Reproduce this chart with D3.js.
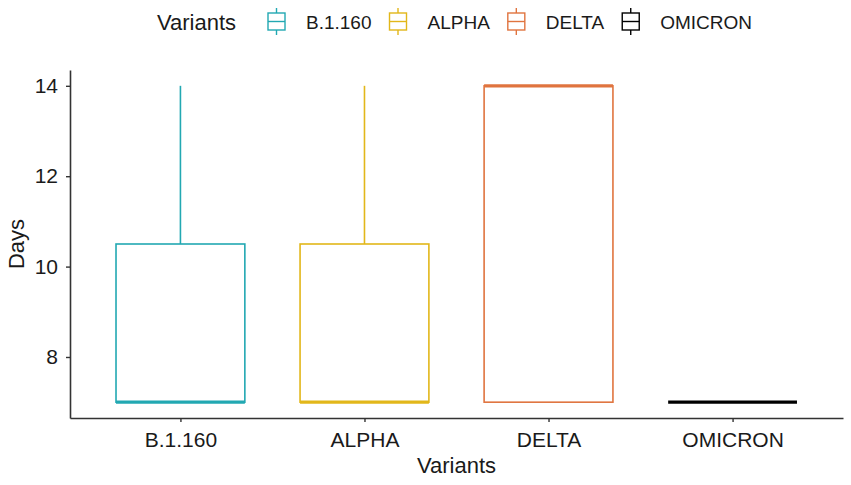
<!DOCTYPE html>
<html>
<head>
<meta charset="utf-8">
<script src="https://cdn.jsdelivr.net/npm/d3@7"></script>
<style>
  body { margin: 0; background: #fff; }
  text { font-family: "Liberation Sans", Arial, sans-serif; fill: #1a1a1a; }
</style>
</head>
<body>
<script>
// data
const variants = ["B.1.160", "ALPHA", "DELTA", "OMICRON"];
const colors = ["#22A8B2", "#E2B71A", "#E0743F", "#000000"];
const lowerWhisker = [7, 7, 7, 7];
const q1 = [7, 7, 7, 7];
const medians = [7, 7, 14, 7];
const q3 = [10.5, 10.5, 14, 7];
const upperWhisker = [14, 14, 14, 7];
const yTicks = [8, 10, 12, 14];

const W = 851, H = 485;
const m = { left: 70, right: 8, top: 70, bottom: 67 };

const svg = d3.select("body").append("svg")
  .attr("width", W)
  .attr("height", H);

// x as continuous positions 1..4 with ggplot-like 0.6 padding
const x = d3.scaleLinear().domain([0.4, 4.6]).range([m.left, W - m.right]);
const y = d3.scaleLinear().domain([6.65, 14.35]).range([H - m.bottom, m.top]);
const boxW = 0.7;

const boxes = variants.map((v, i) => ({
  name: v, pos: i + 1, color: colors[i],
  lo: lowerWhisker[i], q1: q1[i], med: medians[i], q3: q3[i], hi: upperWhisker[i]
}));

const g = svg.append("g");

// whiskers
g.selectAll(".whisk-hi").data(boxes).join("line")
  .attr("x1", d => x(d.pos)).attr("x2", d => x(d.pos))
  .attr("y1", d => y(d.q3)).attr("y2", d => y(d.hi))
  .attr("stroke", d => d.color).attr("stroke-width", 1.6);
g.selectAll(".whisk-lo").data(boxes).join("line")
  .attr("x1", d => x(d.pos)).attr("x2", d => x(d.pos))
  .attr("y1", d => y(d.lo)).attr("y2", d => y(d.q1))
  .attr("stroke", d => d.color).attr("stroke-width", 1.6);

// boxes
g.selectAll("rect.box").data(boxes).join("rect")
  .attr("class", "box")
  .attr("x", d => x(d.pos - boxW / 2))
  .attr("width", d => x(d.pos + boxW / 2) - x(d.pos - boxW / 2))
  .attr("y", d => y(d.q3))
  .attr("height", d => y(d.q1) - y(d.q3))
  .attr("fill", "white")
  .attr("stroke", d => d.color)
  .attr("stroke-width", 1.6);

// medians
g.selectAll("line.med").data(boxes).join("line")
  .attr("class", "med")
  .attr("x1", d => x(d.pos - boxW / 2)).attr("x2", d => x(d.pos + boxW / 2))
  .attr("y1", d => y(d.med)).attr("y2", d => y(d.med))
  .attr("stroke", d => d.color).attr("stroke-width", 3.2);

// axes
const xAxis = svg.append("g")
  .attr("transform", `translate(0,${H - m.bottom})`)
  .call(d3.axisBottom(x).tickValues([1, 2, 3, 4]).tickFormat(d => variants[d - 1])
    .tickSize(4).tickPadding(10).tickSizeOuter(0));
const yAxis = svg.append("g")
  .attr("transform", `translate(${m.left},0)`)
  .call(d3.axisLeft(y).tickValues(yTicks).tickSize(4).tickPadding(8).tickSizeOuter(0));

[xAxis, yAxis].forEach(a => {
  a.select(".domain").attr("stroke", "#333").attr("stroke-width", 1.6);
  a.selectAll(".tick line").attr("stroke", "#333").attr("stroke-width", 1.4);
  a.selectAll(".tick text").attr("font-size", 21).attr("fill", "#1a1a1a")
    .attr("font-family", "Liberation Sans, Arial, sans-serif");
});

// axis titles
svg.append("text")
  .attr("x", (m.left + W - m.right) / 2)
  .attr("y", 473)
  .attr("text-anchor", "middle")
  .attr("font-size", 22)
  .text("Variants");
svg.append("text")
  .attr("transform", `translate(24,${(m.top + H - m.bottom) / 2}) rotate(-90)`)
  .attr("text-anchor", "middle")
  .attr("font-size", 22)
  .text("Days");

// legend, laid out left to right from the measured text widths
const legend = svg.append("g");
legend.append("text")
  .attr("x", 157).attr("y", 30)
  .attr("font-size", 22)
  .text("Variants");
let cursor = 268;
boxes.forEach(d => {
  const item = legend.append("g").attr("transform", `translate(${cursor},0)`);
  item.append("line")
    .attr("x1", 8.5).attr("x2", 8.5).attr("y1", 8).attr("y2", 35)
    .attr("stroke", d.color).attr("stroke-width", 1.4);
  item.append("rect")
    .attr("x", 0).attr("y", 13).attr("width", 17).attr("height", 17)
    .attr("fill", "white").attr("stroke", d.color).attr("stroke-width", 1.4);
  item.append("line")
    .attr("x1", 0).attr("x2", 17).attr("y1", 21.5).attr("y2", 21.5)
    .attr("stroke", d.color).attr("stroke-width", 1.4);
  const t = item.append("text")
    .attr("x", 38).attr("y", 29)
    .attr("font-size", 19)
    .text(d.name);
  cursor += 38 + t.node().getComputedTextLength() + 18;
});
</script>
</body>
</html>
